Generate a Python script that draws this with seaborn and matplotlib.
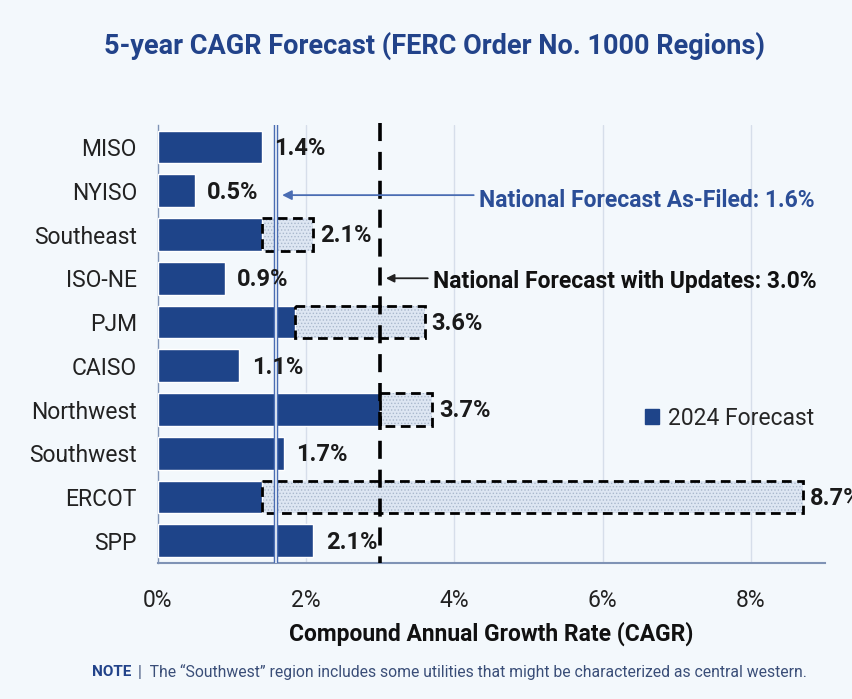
import seaborn as sns
import matplotlib.pyplot as plt
import pandas as pd
from matplotlib.patches import Patch

# dados
regioes = ['MISO', 'NYISO', 'Southeast', 'ISO-NE', 'PJM', 'CAISO',
           'Northwest', 'Southwest', 'ERCOT', 'SPP']
previsao_2024 = [1.4, 0.5, 1.4, 0.9, 1.85, 1.1, 3.0, 1.7, 1.4, 2.1]
previsao_atualizada = [1.4, 0.5, 2.1, 0.9, 3.6, 1.1, 3.7, 1.7, 8.7, 2.1]
nacional_filed = 1.6
nacional_update = 3.0
ticks_x = [0, 2, 4, 6, 8]

AZUL = '#1E4489'
AZUL_LINHA = '#4A6DB3'
FUNDO = '#F3F8FC'

sns.set_theme(style='white')
plt.rcParams['font.family'] = ['Roboto', 'DejaVu Sans']
plt.rcParams['hatch.linewidth'] = 0.6

df = pd.DataFrame({'regiao': regioes, 'base': previsao_2024, 'atual': previsao_atualizada})
df['extra'] = df['atual'] - df['base']

fig = plt.figure(figsize=(8.53, 6.99), dpi=100, facecolor=FUNDO)
ax = fig.add_axes([0.185, 0.195, 0.782, 0.626])
ax.set_facecolor(FUNDO)

# grade vertical
for t in ticks_x[1:]:
    ax.axvline(t, color='#D6DEEA', lw=1, zorder=0)

sns.barplot(data=df, x='base', y='regiao', color=AZUL, width=0.75,
            saturation=1, ax=ax, zorder=3)

# parte atualizada (tracejada)
com_extra = df[df['extra'] > 0]
pos = [regioes.index(r) for r in com_extra['regiao']]
ax.barh(pos, com_extra['extra'], left=com_extra['base'], height=0.75,
        color='#DDE6F2', hatch='.....', edgecolor='#A9B8CC', lw=0, zorder=2)
ax.barh(pos, com_extra['extra'], left=com_extra['base'], height=0.75,
        fill=False, edgecolor='black', lw=2, linestyle=(0, (3.5, 2)), zorder=4)

# rótulos de valor
for i, (v, e) in enumerate(zip(df['atual'], df['extra'])):
    desloc = 5 if e > 0 else 9
    ax.annotate(f'{v:.1f}%', (v, i), xytext=(desloc, -1), textcoords='offset points',
                ha='left', va='center', fontsize=17, fontweight='bold',
                color='#1A1A1A', zorder=6)

# linhas nacionais
ax.axvline(nacional_filed, color=AZUL_LINHA, lw=3.2, zorder=5)
ax.axvline(nacional_filed, color=FUNDO, lw=1.2, zorder=5)
ax.plot([nacional_update, nacional_update], [-0.55, 9.5], color='black', lw=2.6,
        linestyle=(0, (5, 3)), zorder=5, clip_on=False)

ax.annotate('', xy=(nacional_filed + 0.04, 1.1), xytext=(4.3, 1.1),
            arrowprops=dict(arrowstyle='-|>', color=AZUL_LINHA, lw=1.3,
                            mutation_scale=14), zorder=6)
ax.text(4.33, 1.22, f'National Forecast As-Filed: {nacional_filed}%', color='#2B4E97',
        fontsize=16.5, fontweight='bold', va='center', ha='left')
ax.annotate('', xy=(nacional_update + 0.04, 3.0), xytext=(3.68, 3.0),
            arrowprops=dict(arrowstyle='-|>', color='#222222', lw=1.3,
                            mutation_scale=12), zorder=6)
ax.text(3.71, 3.08, f'National Forecast with Updates: {nacional_update}%', color='#111111',
        fontsize=16.5, fontweight='bold', va='center', ha='left')

ax.legend(handles=[Patch(color=AZUL, label='2024 Forecast')], frameon=False,
          loc='center left', bbox_to_anchor=(0.7, 0.33), fontsize=16.5,
          handlelength=0.6, handleheight=0.6, handletextpad=0.4)

ax.set_xlim(0, 9)
ax.set_ylim(9.5, -0.5)
ax.set_xticks(ticks_x)
ax.set_xticklabels([f'{t}%' for t in ticks_x], fontsize=16.5, color='#222222')
ax.tick_params(axis='y', labelsize=16.5, labelcolor='#222222', length=0, pad=15)
ax.tick_params(axis='x', length=0, pad=19)
ax.set_ylabel('')
ax.set_xlabel('Compound Annual Growth Rate (CAGR)', fontsize=16.5,
              fontweight='bold', color='#111111', labelpad=7)

for lado in ['top', 'right']:
    ax.spines[lado].set_visible(False)
ax.spines['bottom'].set_color('#7F93B5')
ax.spines['bottom'].set_linewidth(1.5)
ax.spines['left'].set_color('#7F93B5')
ax.spines['left'].set_linewidth(1)

fig.text(0.509, 0.935, '5-year CAGR Forecast (FERC Order No. 1000 Regions)',
         ha='center', va='center', fontsize=19.5, fontweight='bold', color='#22438A')

fig.text(0.108, 0.039, 'NOTE', ha='left', va='center', fontsize=11,
         fontweight='bold', color='#22438A')
fig.text(0.162, 0.039, '|  The “Southwest” region includes some utilities that might be characterized as central western.',
         ha='left', va='center', fontsize=11.3, color='#3A4E78')

fig.savefig('out.png', dpi=100, facecolor=FUNDO)
